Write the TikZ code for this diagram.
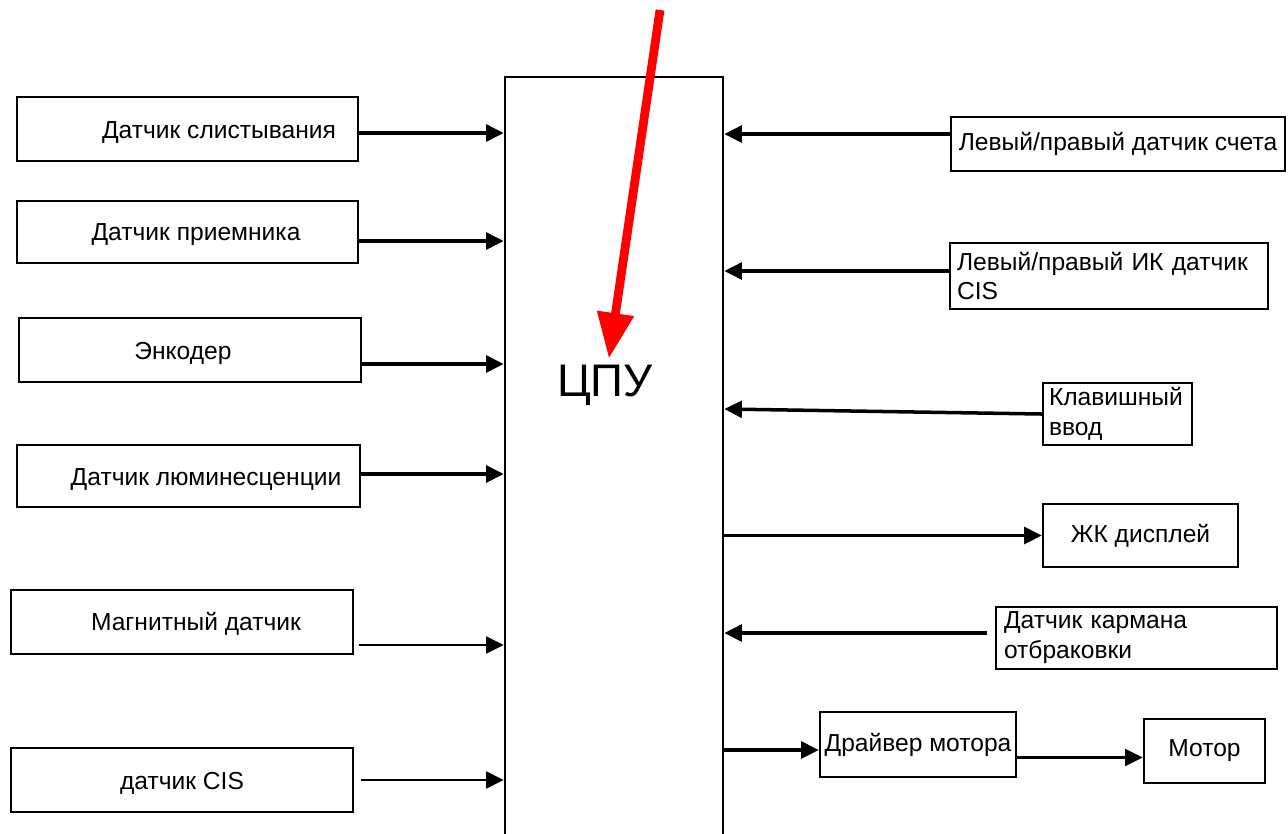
\documentclass[tikz,border=0pt]{standalone}
\usepackage{fontspec}
\setmainfont{Liberation Sans}
\usetikzlibrary{arrows.meta}

\begin{document}
\begin{tikzpicture}[
    x=0.02cm,
    y=-0.02cm,
    >={Triangle[length=10pt,width=9.5pt]},
    txt/.style={font=\fontsize{14}{17}\selectfont},
    box/.style={draw, line width=1.4pt, inner sep=0pt, txt},
    link/.style={->, line width=2pt},
    thinlink/.style={->, line width=1.5pt}
]

\useasboundingbox (0,0) rectangle (1288,833);
\clip (0,0) rectangle (1288,833);

%------------------------------------------------
% CPU block
%------------------------------------------------
\node[draw, line width=1.5pt, inner sep=0pt,
    minimum width=4.36cm, minimum height=16.46cm] (cpu) at (614,488.5) {};
\node[font=\fontsize{26}{30}\selectfont] (cpuname) at (605,385) {ЦПУ};

%------------------------------------------------
% Inputs on the left
%------------------------------------------------
\node[box, minimum width=6.82cm, minimum height=1.28cm,
    label={[txt, xshift=0.63cm, yshift=-0.06cm]center:Датчик слистывания}] (s1) at (187.5,129) {};
\node[box, minimum width=6.82cm, minimum height=1.24cm,
    label={[txt, xshift=0.17cm, yshift=-0.06cm]center:Датчик приемника}] (s2) at (187.5,232) {};
\node[box, minimum width=6.84cm, minimum height=1.28cm,
    label={[txt, xshift=-0.14cm, yshift=-0.06cm]center:Энкодер}] (s3) at (190,350) {};
\node[box, minimum width=6.86cm, minimum height=1.24cm,
    label={[txt, xshift=0.35cm, yshift=-0.06cm]center:Датчик люминесценции}] (s4) at (188.5,476) {};
\node[box, minimum width=6.84cm, minimum height=1.28cm,
    label={[txt, xshift=0.28cm, yshift=-0.04cm]center:Магнитный датчик}] (s5) at (182,622) {};
\node[box, minimum width=6.84cm, minimum height=1.28cm,
    label={[txt, yshift=-0.06cm]center:датчик CIS}] (s6) at (182,780) {};

\draw[link] ([yshift=-0.08cm]s1.east) -- ([yshift=-0.08cm]s1.east -| cpu.west);
\draw[link] ([yshift=-0.18cm]s2.east) -- ([yshift=-0.18cm]s2.east -| cpu.west);
\draw[link] ([yshift=-0.28cm]s3.east) -- ([yshift=-0.28cm]s3.east -| cpu.west);
\draw[link] ([yshift=0.04cm]s4.east) -- ([yshift=0.04cm]s4.east -| cpu.west);
\draw[thinlink] ([xshift=0.1cm, yshift=-0.46cm]s5.east) -- ([yshift=-0.46cm]s5.east -| cpu.west);
\draw[thinlink] ([xshift=0.14cm]s6.east) -- (s6.east -| cpu.west);

%------------------------------------------------
% Blocks on the right
%------------------------------------------------
\node[box, minimum width=6.68cm, minimum height=1.08cm] (r1) at (1118,144)
    {Левый/правый датчик счета};
\node[box, minimum width=6.36cm, minimum height=1.32cm,
    text width=6.08cm, align=left] (r2) at (1109,276)
    {Левый/правый ИК датчик\\CIS};
\node[box, minimum width=2.98cm, minimum height=1.24cm,
    text width=2.74cm, align=left] (r3) at (1117.5,414)
    {Клавишный\\ввод};
\node[box, minimum width=3.9cm, minimum height=1.26cm] (r4) at (1140.5,535.5)
    {ЖК дисплей};
\node[box, minimum width=5.62cm, minimum height=1.24cm,
    text width=5.30cm, align=left] (r5) at (1136.5,638)
    {Датчик кармана\\отбраковки};
\node[box, minimum width=3.92cm, minimum height=1.3cm] (r6) at (918,744.5)
    {Драйвер мотора};
\node[box, minimum width=2.42cm, minimum height=1.28cm] (r7) at (1204.5,751)
    {Мотор};

\draw[link] ([yshift=0.2cm]r1.west) -- ([yshift=0.2cm]r1.west -| cpu.east);
\draw[link] ([yshift=0.1cm]r2.west) -- ([yshift=0.1cm]r2.west -| cpu.east);
\draw[link] (r3.west) -- ([yshift=0.1cm]r3.west -| cpu.east);
\draw[link] (r4.west -| cpu.east) -- (r4.west);
\draw[link] ([xshift=-0.16cm, yshift=0.1cm]r5.west) -- ([yshift=0.1cm]r5.west -| cpu.east);
\draw[link] ([yshift=-0.11cm]r6.west -| cpu.east) -- ([yshift=-0.11cm]r6.west);
\draw[thinlink] ([yshift=-0.26cm]r6.east) -- ([yshift=-0.26cm]r6.east -| r7.west);

%------------------------------------------------
% Red pointer
%------------------------------------------------
\coordinate (redtail) at (660,10);
\draw[red, line width=5pt, -{Triangle[length=26pt,width=20pt]}]
    (redtail) -- (cpuname);

\end{tikzpicture}
\end{document}
